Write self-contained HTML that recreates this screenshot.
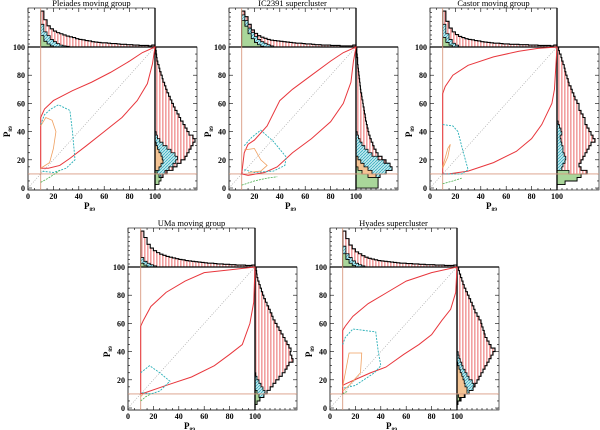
<!DOCTYPE html>
<html><head><meta charset="utf-8">
<style>
html,body{margin:0;padding:0;background:#fff;}
svg{display:block;font-family:"Liberation Serif",serif;}
</style></head>
<body>
<svg id="fig" width="600" height="430" viewBox="0 0 600 430" xmlns="http://www.w3.org/2000/svg">
<defs>
<pattern id="redStripe" width="3" height="3" patternUnits="userSpaceOnUse"><rect width="3" height="3" fill="#fff"/><rect x="0" width="1.6" height="3" fill="#f2a0a0"/></pattern>
<pattern id="cyanHatch" width="3" height="3" patternUnits="userSpaceOnUse"><rect width="3" height="3" fill="#bfe8ee"/><path d="M0,3 L3,0" stroke="#2aa6b8" stroke-width="0.7"/></pattern>
<pattern id="greenFill" width="3" height="3" patternUnits="userSpaceOnUse"><rect width="3" height="3" fill="#a9d69a"/></pattern>
<pattern id="orangeFill" width="3" height="3" patternUnits="userSpaceOnUse"><rect width="3" height="3" fill="#f3c494"/></pattern>
</defs>
</svg>
<script>
// ---------- data (data units: P values 0..100, histogram fractions 0..1) ----------
const panelTitles = ["Pleiades moving group","IC2391 supercluster","Castor moving group","UMa moving group","Hyades supercluster"];
const xTickLabels = ["0","20","40","60","80","100"];
const yTickLabels = ["0","20","40","60","80","100"];

const redContour1 = [[10,46],[10,50],[13,56],[20,62],[35,69],[50,75],[65,82],[80,90],[90,96],[100,100],[98,88],[94,74],[86,62],[74,50],[60,40],[46,30],[33,21],[25,16],[16,14],[10,14],[10,46]];
const cyanPoly1 = [[10,45],[13,52],[18,56],[24,59],[33,55],[35,40],[37,20],[30,14],[20,11],[10,12]];
const orangePoly1 = [[10,44],[14,50],[19,48],[22,40],[20,28],[17,18],[10,14]];
const greenPoly1 = [[10,4],[16,7],[21,10],[26,13]];
const topRed1 = [0.95,0.72,0.56,0.48,0.42,0.38,0.35,0.32,0.29,0.27,0.25,0.22,0.2,0.19,0.17,0.16,0.14,0.13,0.12,0.11,0.11,0.1,0.09,0.09,0.08,0.07,0.07,0.06,0.06,0.05,0.05,0.04,0.04,0.04,0.03,0.05];
const topCyan1 = [0.6,0.4,0.3,0.2,0.14,0.09,0.05,0.03,0.02];
const topGreen1 = [0.3,0.15,0.08,0.03];
const topOrange1 = [0.2,0.1,0.05];
const rightRed1 = [0,0.05,0.12,0.2,0.3,0.45,0.55,0.65,0.75,0.8,0.85,0.9,0.95,1.0,0.95,0.85,0.8,0.75,0.7,0.64,0.6,0.55,0.5,0.46,0.42,0.38,0.34,0.3,0.27,0.24,0.2,0.18,0.15,0.12,0.1,0.07,0.05,0.04,0.03,0.02];
const rightCyan1 = [0,0.04,0.1,0.15,0.25,0.35,0.45,0.52,0.56,0.5,0.4,0.3,0.2,0.12,0.06,0.03];
const rightGreen1 = [0,0.1,0.15,0.1,0.05];
const rightOrange1 = [0,0,0,0,0.05,0.1,0.15,0.2,0.18,0.15,0.1,0.06,0.03];

const redContour2 = [[10,10],[12,25],[15,31],[20,34],[30,44],[40,62],[50,70],[65,80],[80,90],[90,96],[100,100],[98,90],[96,75],[90,60],[80,47],[65,35],[50,25],[38,15],[28,11],[15,9],[10,10]];
const cyanPoly2 = [[12,30],[18,36],[25,41],[35,33],[45,22],[44,16],[35,12],[20,11],[12,13]];
const orangePoly2 = [[12,27],[20,28],[25,20],[30,16],[25,12],[15,11]];
const greenPoly2 = [[10,2],[20,5],[30,7],[38,8]];
const topRed2 = [0.95,0.8,0.6,0.45,0.36,0.3,0.26,0.23,0.2,0.18,0.17,0.16,0.15,0.14,0.13,0.12,0.11,0.1,0.1,0.09,0.08,0.08,0.07,0.06,0.06,0.05,0.05,0.05,0.04,0.04,0.04,0.03,0.03,0.03,0.03,0.05];
const topCyan2 = [0.85,0.7,0.5,0.38,0.28,0.2,0.14,0.1,0.06,0.03];
const topGreen2 = [0.7,0.55,0.35,0.22,0.12,0.06,0.02];
const topOrange2 = [0.6,0.45,0.3,0.2,0.1,0.05];
const rightRed2 = [0.55,0.55,0.55,0.6,0.75,0.9,0.85,0.75,0.65,0.55,0.5,0.45,0.42,0.38,0.35,0.32,0.3,0.28,0.26,0.24,0.23,0.21,0.2,0.18,0.17,0.15,0.14,0.12,0.11,0.1,0.09,0.08,0.07,0.06,0.05,0.04,0.04,0.03,0.02,0.02];
const rightCyan2 = [0.55,0.55,0.55,0.6,0.75,0.9,0.85,0.7,0.55,0.4,0.3,0.22,0.15,0.1,0.06,0.03];
const rightGreen2 = [0.55,0.55,0.55,0.3,0.15,0.05];
const rightOrange2 = [0.55,0.55,0.55,0.5,0.4,0.3,0.2,0.12,0.05];

const redContour3 = [[10,10],[10,67],[12,72],[18,80],[30,87],[50,93],[70,97],[85,99],[100,100],[98,70],[96,60],[88,45],[80,35],[68,26],[50,18],[30,12],[15,10],[10,10]];
const cyanPoly3 = [[10,45],[18,44],[22,40],[26,26],[30,13],[25,10],[10,10]];
const orangePoly3 = [[10,15],[14,28],[16,31],[14,22],[10,14]];
const greenPoly3 = [[10,3],[18,5],[25,7]];
const topRed3 = [0.95,0.68,0.5,0.4,0.33,0.28,0.25,0.22,0.2,0.19,0.17,0.16,0.14,0.13,0.12,0.11,0.1,0.1,0.09,0.08,0.08,0.07,0.07,0.07,0.06,0.06,0.06,0.05,0.05,0.05,0.04,0.04,0.04,0.04,0.03,0.05];
const topCyan3 = [0.6,0.35,0.2,0.1,0.05];
const topGreen3 = [0.25,0.12,0.05];
const topOrange3 = [0.1,0.05];
const rightRed3 = [0,0.2,0.5,0.6,0.75,0.6,0.55,0.6,0.65,0.7,0.75,0.8,0.85,0.95,0.9,0.85,0.8,0.75,0.7,0.7,0.65,0.6,0.55,0.55,0.5,0.45,0.42,0.38,0.35,0.3,0.28,0.25,0.22,0.2,0.18,0.15,0.12,0.1,0.06,0.04];
const rightCyan3 = [0,0.1,0.18,0.2,0.15,0.12,0.15,0.2,0.22,0.18,0.15,0.15,0.12,0.1,0.08,0.12,0.1,0.06,0.03];
const rightGreen3 = [0,0.2,0.5,0.6,0.3];
const rightOrange3 = [0,0,0,0,0.02];

const redContour4 = [[10,10],[10,58],[12,62],[18,72],[30,82],[45,90],[60,96],[80,98],[100,100],[99,75],[96,60],[90,45],[80,38],[68,30],[50,22],[30,16],[14,11],[10,10]];
const cyanPoly4 = [[10,25],[17,30],[25,25],[33,19],[25,12],[18,10],[10,11]];
const orangePoly4 = [[10,8],[12,10]];
const greenPoly4 = [[10,5],[14,8],[18,10]];
const topRed4 = [0.95,0.78,0.6,0.5,0.43,0.38,0.34,0.31,0.28,0.26,0.24,0.22,0.2,0.19,0.17,0.16,0.15,0.14,0.13,0.12,0.11,0.1,0.1,0.09,0.08,0.08,0.07,0.07,0.06,0.06,0.05,0.05,0.05,0.04,0.04,0.05];
const topCyan4 = [0.25,0.15,0.1,0.06,0.03];
const topGreen4 = [0.1,0.05];
const topOrange4 = [0.04];
const rightRed4 = [0,0.05,0.12,0.22,0.3,0.38,0.45,0.52,0.6,0.68,0.75,0.8,0.85,0.95,0.92,0.88,0.9,0.85,0.8,0.75,0.7,0.65,0.6,0.55,0.5,0.45,0.42,0.38,0.34,0.3,0.26,0.22,0.19,0.16,0.13,0.1,0.07,0.05,0.04,0.03];
const rightCyan4 = [0,0.05,0.12,0.22,0.25,0.2,0.15,0.1,0.05,0.02];
const rightGreen4 = [0,0.05,0.12,0.1,0.05];
const rightOrange4 = [0,0,0,0.02];

const redContour5 = [[10,10],[10,55],[12,58],[18,65],[30,74],[45,82],[60,90],[80,96],[100,100],[99,82],[95,70],[88,62],[80,52],[70,45],[58,38],[44,29],[32,25],[22,21],[12,17],[10,16],[10,10]];
const cyanPoly5 = [[10,45],[12,50],[18,56],[36,54],[38,40],[40,30],[35,25],[20,16],[10,14]];
const orangePoly5 = [[10,15],[15,39],[25,39],[24,25],[15,16],[10,12]];
const greenPoly5 = [[10,10],[14,12]];
const topRed5 = [0.95,0.75,0.58,0.48,0.4,0.35,0.3,0.26,0.23,0.21,0.19,0.17,0.16,0.15,0.14,0.13,0.12,0.11,0.1,0.1,0.09,0.09,0.08,0.08,0.07,0.07,0.06,0.06,0.06,0.05,0.05,0.05,0.04,0.04,0.04,0.05];
const topCyan5 = [0.55,0.35,0.25,0.16,0.1,0.06,0.03];
const topGreen5 = [0.35,0.2,0.1,0.04];
const topOrange5 = [0.25,0.15,0.08,0.03];
const rightRed5 = [0,0.02,0.1,0.2,0.3,0.4,0.45,0.5,0.55,0.6,0.65,0.7,0.75,0.8,0.85,0.9,0.95,0.85,0.8,0.75,0.7,0.68,0.65,0.62,0.6,0.55,0.5,0.45,0.42,0.38,0.34,0.3,0.26,0.22,0.18,0.15,0.12,0.09,0.06,0.04];
const rightCyan5 = [0,0.02,0.1,0.2,0.3,0.4,0.42,0.38,0.3,0.25,0.2,0.15,0.12,0.08,0.05,0.03];
const rightGreen5 = [0,0.02,0.06,0.04];
const rightOrange5 = [0,0,0.08,0.18,0.25,0.25,0.2,0.18,0.15,0.12,0.08,0.05,0.02];

// ---------- layout ----------
const panels = [
  {x0:28,  yTop:8,   title:panelTitles[0], red:redContour1, cyan:cyanPoly1, orange:orangePoly1, green:greenPoly1, tR:topRed1, tC:topCyan1, tG:topGreen1, tO:topOrange1, rR:rightRed1, rC:rightCyan1, rG:rightGreen1, rO:rightOrange1},
  {x0:229, yTop:8,   title:panelTitles[1], red:redContour2, cyan:cyanPoly2, orange:orangePoly2, green:greenPoly2, tR:topRed2, tC:topCyan2, tG:topGreen2, tO:topOrange2, rR:rightRed2, rC:rightCyan2, rG:rightGreen2, rO:rightOrange2},
  {x0:430, yTop:8,   title:panelTitles[2], red:redContour3, cyan:cyanPoly3, orange:orangePoly3, green:greenPoly3, tR:topRed3, tC:topCyan3, tG:topGreen3, tO:topOrange3, rR:rightRed3, rC:rightCyan3, rG:rightGreen3, rO:rightOrange3},
  {x0:128, yTop:228, title:panelTitles[3], red:redContour4, cyan:cyanPoly4, orange:orangePoly4, green:greenPoly4, tR:topRed4, tC:topCyan4, tG:topGreen4, tO:topOrange4, rR:rightRed4, rC:rightCyan4, rG:rightGreen4, rO:rightOrange4},
  {x0:330, yTop:228, title:panelTitles[4], red:redContour5, cyan:cyanPoly5, orange:orangePoly5, green:greenPoly5, tR:topRed5, tC:topCyan5, tG:topGreen5, tO:topOrange5, rR:rightRed5, rC:rightCyan5, rG:rightGreen5, rO:rightOrange5}
];
const NS = "http://www.w3.org/2000/svg";
const svg = document.getElementById('fig');
const W = 127, H = 141, TOPH = 39, RIGHTW = 40, TOPBIN = 2.5, RBIN = 2.5;

function mk(tag, attrs, parent){
  const e = document.createElementNS(NS, tag);
  for (const k in attrs) e.setAttribute(k, attrs[k]);
  parent.appendChild(e);
  return e;
}

panels.forEach((p, pi) => {
  const g = mk('g', {}, svg);
  
  
  const yM = p.yTop + TOPH;            // y of P=100
  const sx = v => p.x0 + v * W / 100;
  const sy = v => yM + (100 - v) * H / 100;
  const boxB = sy(0) + 2;
  const xR = sx(100);

  // top histogram
  const topY = h => yM - h * TOPH * 0.97;
  function topPath(arr){
    let d = 'M' + sx(10) + ',' + yM;
    arr.forEach((h, i) => {
      const a = sx(10 + i * TOPBIN), b = sx(10 + (i+1) * TOPBIN);
      d += ' L' + a + ',' + topY(h) + ' L' + b + ',' + topY(h);
    });
    d += ' L' + sx(10 + arr.length * TOPBIN) + ',' + yM + ' Z';
    return d;
  }
  const trp = mk('path', {d: topPath(p.tR), fill:'url(#redStripe)', stroke:'#000', 'stroke-width':1.1}, g);
  
  
  const tcp = mk('path', {d: topPath(p.tC), fill:'url(#cyanHatch)', stroke:'#000', 'stroke-width':0.8}, g);
  
  
  const top_ = mk('path', {d: topPath(p.tO), fill:'url(#orangeFill)', stroke:'#000', 'stroke-width':0.8}, g);
  
  
  const tgp = mk('path', {d: topPath(p.tG), fill:'url(#greenFill)', stroke:'#000', 'stroke-width':0.8}, g);
  
  

  // right histogram
  const rX = w => xR + w * RIGHTW;
  function rightPath(arr){
    let d = 'M' + xR + ',' + sy(0);
    arr.forEach((w, i) => {
      const a = sy(i * RBIN), b = sy((i+1) * RBIN);
      d += ' L' + rX(w) + ',' + a + ' L' + rX(w) + ',' + b;
    });
    d += ' L' + xR + ',' + sy(arr.length * RBIN) + ' Z';
    return d;
  }
  const rrp = mk('path', {d: rightPath(p.rR), fill:'url(#redStripe)', stroke:'#000', 'stroke-width':1.1}, g);
  
  
  const rcp = mk('path', {d: rightPath(p.rC), fill:'url(#cyanHatch)', stroke:'#000', 'stroke-width':0.8}, g);
  
  
  const rop = mk('path', {d: rightPath(p.rO), fill:'url(#orangeFill)', stroke:'#000', 'stroke-width':0.8}, g);
  
  
  const rgp = mk('path', {d: rightPath(p.rG), fill:'url(#greenFill)', stroke:'#000', 'stroke-width':0.8}, g);
  
  

  // frames
  const fr = mk('rect', {x:p.x0, y:yM, width:W, height:boxB - yM, fill:'none', stroke:'#000', 'stroke-width':0.8}, g);
  
  
  const ft = mk('rect', {x:p.x0, y:p.yTop, width:W, height:TOPH, fill:'none', stroke:'#000', 'stroke-width':0.6}, g);
  
  
  const frr = mk('rect', {x:xR, y:yM, width:RIGHTW + 2, height:boxB - yM, fill:'none', stroke:'#000', 'stroke-width':0.6}, g);
  
  
  mk('line', {x1:p.x0, y1:yM, x2:xR + RIGHTW + 2, y2:yM, stroke:'#000', 'stroke-width':1.3}, g);
  mk('line', {x1:xR, y1:p.yTop, x2:xR, y2:boxB, stroke:'#000', 'stroke-width':1.3}, g);

  // ticks
  for (let v = 0; v <= 100; v += 5) {
    const len = v % 20 === 0 ? 4 : 2;
    mk('line', {x1:sx(v), y1:boxB, x2:sx(v), y2:boxB - len, stroke:'#000', 'stroke-width':0.6}, g);
    mk('line', {x1:sx(v), y1:p.yTop, x2:sx(v), y2:p.yTop + len, stroke:'#000', 'stroke-width':0.6}, g);
    mk('line', {x1:p.x0, y1:sy(v), x2:p.x0 + len, y2:sy(v), stroke:'#000', 'stroke-width':0.6}, g);
    mk('line', {x1:xR + RIGHTW + 2, y1:sy(v), x2:xR + RIGHTW + 2 - len, y2:sy(v), stroke:'#000', 'stroke-width':0.6}, g);
  }
  for (let k = 1; k <= 8; k++) {
    mk('line', {x1:xR + k*5, y1:boxB, x2:xR + k*5, y2:boxB - 2, stroke:'#000', 'stroke-width':0.6}, g);
    mk('line', {x1:p.x0, y1:p.yTop + k*4.5, x2:p.x0 + 2, y2:p.yTop + k*4.5, stroke:'#000', 'stroke-width':0.6}, g);
  }
  xTickLabels.forEach((t, i) => {
    const tx = mk('text', {x:sx(i*20), y:boxB + 9, 'font-size':8, 'text-anchor':'middle', 'font-weight':'bold'}, g);
    tx.textContent = t;
    
    
    const ty = mk('text', {x:p.x0 - 3, y:sy(i*20) + 3, 'font-size':8, 'text-anchor':'end', 'font-weight':'bold'}, g);
    ty.textContent = t;
    
    
  });

  // thresholds & diagonal
  mk('line', {x1:sx(10), y1:p.yTop, x2:sx(10), y2:boxB, stroke:'#d99a80', 'stroke-width':0.9}, g);
  mk('line', {x1:p.x0, y1:sy(10), x2:xR + RIGHTW + 2, y2:sy(10), stroke:'#d99a80', 'stroke-width':0.9}, g);
  const dg = mk('line', {x1:sx(0), y1:sy(0), x2:sx(100), y2:sy(100), stroke:'#999', 'stroke-width':0.6, 'stroke-dasharray':'1,1.5'}, g);
  
  

  const poly = (pts) => pts.map(q => sx(q[0]) + ',' + sy(q[1])).join(' ');
  const pr = mk('polyline', {points: poly(p.red), fill:'none', stroke:'#e8363c', 'stroke-width':1}, g);
  
  
  const pc = mk('polyline', {points: poly(p.cyan), fill:'none', stroke:'#2ab0b8', 'stroke-width':0.9, 'stroke-dasharray':'2,1.2'}, g);
  
  
  const po = mk('polyline', {points: poly(p.orange), fill:'none', stroke:'#f0a060', 'stroke-width':0.8}, g);
  
  
  const pg = mk('polyline', {points: poly(p.green), fill:'none', stroke:'#4caf50', 'stroke-width':0.8, 'stroke-dasharray':'2,1'}, g);
  
  

  // title & axis titles
  const tt = mk('text', {x:p.x0 + W/2, y:p.yTop - 2, 'font-size':8.5, 'text-anchor':'middle'}, g);
  tt.textContent = p.title;
  
  
  const xl = mk('text', {x:p.x0 + W/2 - 2, y:boxB + 19, 'font-size':9, 'text-anchor':'middle', 'font-weight':'bold'}, g);
  xl.innerHTML = 'P<tspan font-size="5.5" dy="2">89</tspan>';
  
  
  const yl = mk('text', {x:0, y:0, 'font-size':9, 'text-anchor':'middle', 'font-weight':'bold', transform:'translate(' + (p.x0 - 18) + ',' + (sy(40)) + ') rotate(-90)'}, g);
  yl.innerHTML = 'P<tspan font-size="5.5" dy="2">89</tspan>';
  
  
});
</script>
</body></html>
